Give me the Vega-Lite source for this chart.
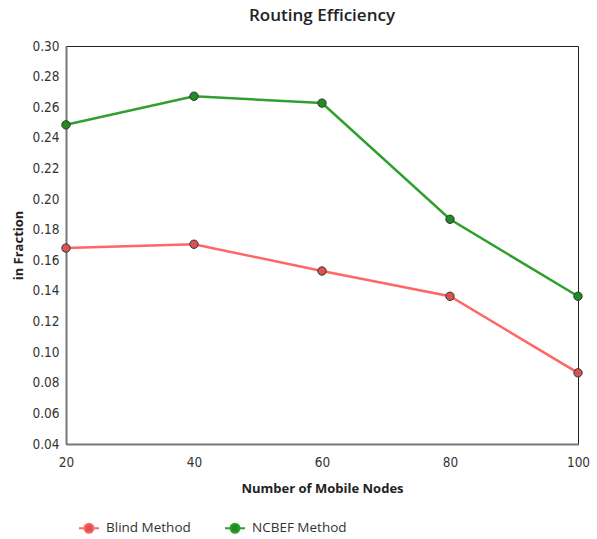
{
  "$schema": "https://vega.github.io/schema/vega-lite/v6.json",
  "autosize": "none",
  "padding": {"left": 66, "top": 46, "right": 19, "bottom": 95},
  "width": 512,
  "height": 398,
  "background": "white",
  "title": {
    "text": "Routing Efficiency",
    "font": "Open Sans",
    "fontSize": 17,
    "fontWeight": 600,
    "color": "#222",
    "offset": 14,
    "anchor": "middle"
  },
  "config": {
    "view": {"stroke": "#222", "strokeWidth": 1},
    "axis": {
      "labelFont": "DejaVu Sans Condensed",
      "labelFontSize": 13.5,
      "labelColor": "#333",
      "titleFont": "Open Sans",
      "titleFontSize": 13,
      "titleFontWeight": "bold",
      "titleColor": "#222",
      "domainColor": "#777",
      "domainWidth": 2,
      "grid": false,
      "ticks": false
    },
    "legend": {
      "labelFont": "Open Sans",
      "labelFontSize": 13.5,
      "labelColor": "#333"
    }
  },
  "data": {
    "values": [
      {"nodes": 20, "method": "Blind Method", "value": 0.168},
      {"nodes": 40, "method": "Blind Method", "value": 0.1705},
      {"nodes": 60, "method": "Blind Method", "value": 0.153},
      {"nodes": 80, "method": "Blind Method", "value": 0.1365},
      {"nodes": 100, "method": "Blind Method", "value": 0.0865},
      {"nodes": 20, "method": "NCBEF Method", "value": 0.2485},
      {"nodes": 40, "method": "NCBEF Method", "value": 0.2672},
      {"nodes": 60, "method": "NCBEF Method", "value": 0.2627},
      {"nodes": 80, "method": "NCBEF Method", "value": 0.1868},
      {"nodes": 100, "method": "NCBEF Method", "value": 0.1365}
    ]
  },
  "encoding": {
    "x": {
      "field": "nodes",
      "type": "quantitative",
      "scale": {"domain": [20, 100], "nice": false, "zero": false},
      "axis": {"values": [20, 40, 60, 80, 100], "title": "Number of Mobile Nodes", "labelPadding": 11, "titlePadding": 14, "labelFlush": false}
    },
    "y": {
      "field": "value",
      "type": "quantitative",
      "scale": {"domain": [0.04, 0.30], "nice": false, "zero": false},
      "axis": {"values": [0.04, 0.06, 0.08, 0.10, 0.12, 0.14, 0.16, 0.18, 0.20, 0.22, 0.24, 0.26, 0.28, 0.30], "format": ".2f", "title": "in Fraction", "labelPadding": 7, "titlePadding": 6}
    }
  },
  "layer": [
    {
      "mark": {"type": "line", "strokeWidth": 2.5},
      "encoding": {
        "color": {
          "field": "method",
          "type": "nominal",
          "scale": {"domain": ["Blind Method", "NCBEF Method"], "range": ["#ff6666", "#2ea02e"]},
          "legend": {
            "title": null,
            "orient": "none",
            "legendX": 12,
            "legendY": 471,
            "direction": "horizontal",
            "columnPadding": 30,
            "symbolType": "M-1,0 L-0.45,0 M0.45,0 L1,0 M-0.45,0 A0.45,0.45 0 1,1 0.45,0 A0.45,0.45 0 1,1 -0.45,0",
            "symbolSize": 400,
            "symbolStrokeWidth": 2,
            "labelOffset": 6
          }
        }
      }
    },
    {
      "mark": {"type": "point", "filled": true, "size": 70, "opacity": 1, "stroke": "#333", "strokeWidth": 1},
      "encoding": {
        "fill": {
          "field": "method",
          "type": "nominal",
          "scale": {"domain": ["Blind Method", "NCBEF Method"], "range": ["#d9534f", "#238b23"]},
          "legend": null
        }
      }
    }
  ]
}
